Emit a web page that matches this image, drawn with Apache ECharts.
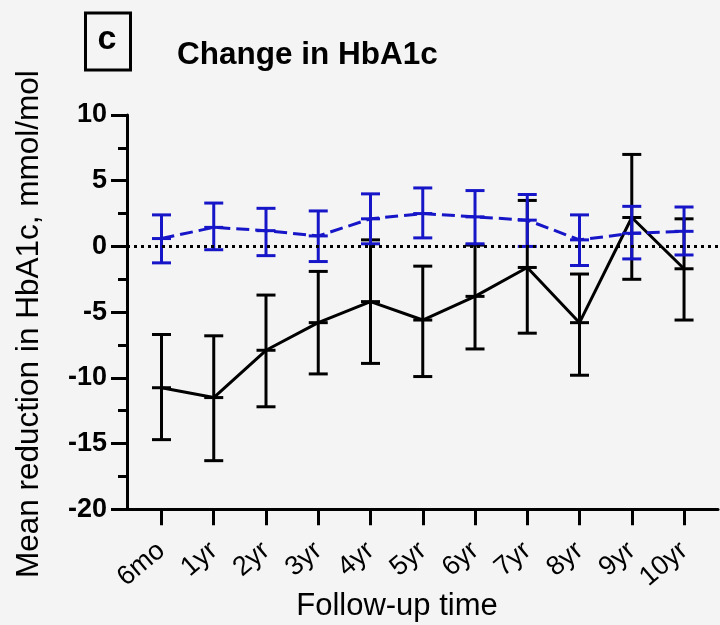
<!DOCTYPE html>
<html>
<head>
<meta charset="utf-8">
<script src="https://cdn.jsdelivr.net/npm/echarts@6/dist/echarts.min.js"></script>
<style>
  html, body { margin: 0; padding: 0; background: #f4f4f4; }
  #chart { width: 720px; height: 625px; }
</style>
</head>
<body>
<div id="chart"></div>
<script>
// Follow-up time points
const categories = ['6mo', '1yr', '2yr', '3yr', '4yr', '5yr', '6yr', '7yr', '8yr', '9yr', '10yr'];

// Group A (solid black): mean change with lower / upper error limits
const groupAMean  = [-10.75, -11.5, -7.9, -5.8, -4.2, -5.6, -3.8, -1.6, -5.8, 2.2, -1.7];
const groupAUpper = [-6.7, -6.8, -3.7, -1.9, 0.5, -1.5, 0.1, 3.5, -2.1, 7.0, 2.1];
const groupALower = [-14.7, -16.3, -12.2, -9.7, -8.9, -9.9, -7.8, -6.6, -9.8, -2.5, -5.6];

// Group B (dashed blue): mean change with lower / upper error limits
const groupBMean  = [0.6, 1.45, 1.2, 0.8, 2.1, 2.5, 2.25, 2.0, 0.5, 1.0, 1.15];
const groupBUpper = [2.4, 3.3, 2.9, 2.7, 4.0, 4.45, 4.25, 3.95, 2.4, 3.05, 3.0];
const groupBLower = [-1.25, -0.25, -0.7, -1.15, 0.2, 0.65, 0.2, 0.0, -1.45, -0.95, -0.65];

// Y axis tick labels
const yTicks = [-20, -15, -10, -5, 0, 5, 10];

const FONT = 'Liberation Sans, Arial, Helvetica, sans-serif';
const BLACK = '#000000';
const BLUE = '#1616c8';

const idx = categories.map((_, i) => i);

// Vertical error bar with end caps and a short bar at the mean
function errorBarRenderer(color) {
  return function (params, api) {
    const x = api.value(0);
    const lo = api.coord([x, api.value(1)]);
    const hi = api.coord([x, api.value(2)]);
    const mid = api.coord([x, api.value(3)]);
    const half = 9.5;
    const style = { stroke: color, lineWidth: 3, lineCap: 'butt' };
    return {
      type: 'group',
      children: [
        { type: 'line', shape: { x1: lo[0], y1: lo[1], x2: hi[0], y2: hi[1] }, style },
        { type: 'line', shape: { x1: hi[0] - half, y1: hi[1], x2: hi[0] + half, y2: hi[1] }, style },
        { type: 'line', shape: { x1: lo[0] - half, y1: lo[1], x2: lo[0] + half, y2: lo[1] }, style },
        { type: 'line', shape: { x1: mid[0] - half, y1: mid[1], x2: mid[0] + half, y2: mid[1] }, style }
      ]
    };
  };
}

const chart = echarts.init(document.getElementById('chart'), null, { renderer: 'canvas' });

chart.setOption({
  backgroundColor: '#f4f4f4',
  animation: false,
  textStyle: { fontFamily: FONT },
  title: {
    text: 'Change in HbA1c',
    left: 172,
    top: 34,
    textStyle: { fontFamily: FONT, fontSize: 31.5, fontWeight: 'bold', color: BLACK }
  },
  graphic: [
    {
      type: 'rect',
      shape: { x: 85.5, y: 13, width: 45, height: 57 },
      style: { fill: 'none', stroke: BLACK, lineWidth: 3 }
    },
    {
      type: 'text',
      x: 107, y: 40,
      style: {
        text: 'c', fontFamily: FONT, fontSize: 34, fontWeight: 'bold', fill: BLACK,
        align: 'center', verticalAlign: 'middle'
      }
    }
  ],
  grid: {
    left: 127, right: 2, top: 115, bottom: 115.7,
    containLabel: false,
    outerBoundsMode: 'none'
  },
  xAxis: {
    type: 'value',
    min: -0.66,
    max: 10.65,
    name: 'Follow-up time',
    nameLocation: 'middle',
    nameGap: 82,
    nameMoveOverlap: false,
    nameTextStyle: { fontFamily: FONT, fontSize: 31, color: BLACK, padding: [0, 51, 0, 0] },
    splitLine: { show: false },
    axisLine: { show: true, onZero: false, lineStyle: { color: BLACK, width: 3 } },
    axisTick: { show: true, length: 16, customValues: idx, lineStyle: { color: BLACK, width: 3 } },
    axisLabel: {
      customValues: idx,
      rotate: 40,
      margin: 38,
      fontFamily: FONT,
      fontSize: 27,
      color: BLACK,
      formatter: v => categories[Math.round(v)] || ''
    }
  },
  yAxis: {
    type: 'value',
    min: yTicks[0],
    max: yTicks[yTicks.length - 1],
    interval: 5,
    name: 'Mean reduction in HbA1c, mmol/mol',
    nameLocation: 'middle',
    nameGap: 82,
    nameMoveOverlap: false,
    nameTextStyle: { fontFamily: FONT, fontSize: 31.5, color: BLACK, padding: [0, 24, 0, 0] },
    splitLine: { show: false },
    axisLine: { show: true, onZero: false, lineStyle: { color: BLACK, width: 3 } },
    axisTick: { show: true, length: 16, lineStyle: { color: BLACK, width: 3 } },
    minorTick: { show: true, splitNumber: 2, length: 9, lineStyle: { color: BLACK, width: 3 } },
    minorSplitLine: { show: false },
    axisLabel: {
      margin: 20,
      fontFamily: FONT,
      fontSize: 27,
      fontWeight: 'bold',
      color: BLACK,
      formatter: v => String(v)
    }
  },
  series: [
    {
      name: 'Zero',
      type: 'line',
      data: [],
      silent: true,
      markLine: {
        silent: true,
        symbol: 'none',
        label: { show: false },
        lineStyle: { color: BLACK, width: 3, type: [3, 4], cap: 'butt' },
        data: [{ yAxis: 0 }]
      }
    },
    {
      name: 'Group A',
      type: 'line',
      data: groupAMean.map((v, i) => [i, v]),
      symbol: 'none',
      lineStyle: { color: BLACK, width: 3 },
      z: 3
    },
    {
      name: 'Group A error',
      type: 'custom',
      renderItem: errorBarRenderer(BLACK),
      data: groupAMean.map((v, i) => [i, groupALower[i], groupAUpper[i], v]),
      encode: { x: 0, y: [1, 2] },
      clip: false,
      z: 3
    },
    {
      name: 'Group B',
      type: 'line',
      data: groupBMean.map((v, i) => [i, v]),
      symbol: 'none',
      lineStyle: { color: BLUE, width: 3, type: [13, 6] },
      z: 4
    },
    {
      name: 'Group B error',
      type: 'custom',
      renderItem: errorBarRenderer(BLUE),
      data: groupBMean.map((v, i) => [i, groupBLower[i], groupBUpper[i], v]),
      encode: { x: 0, y: [1, 2] },
      clip: false,
      z: 4
    }
  ]
});
</script>
</body>
</html>
